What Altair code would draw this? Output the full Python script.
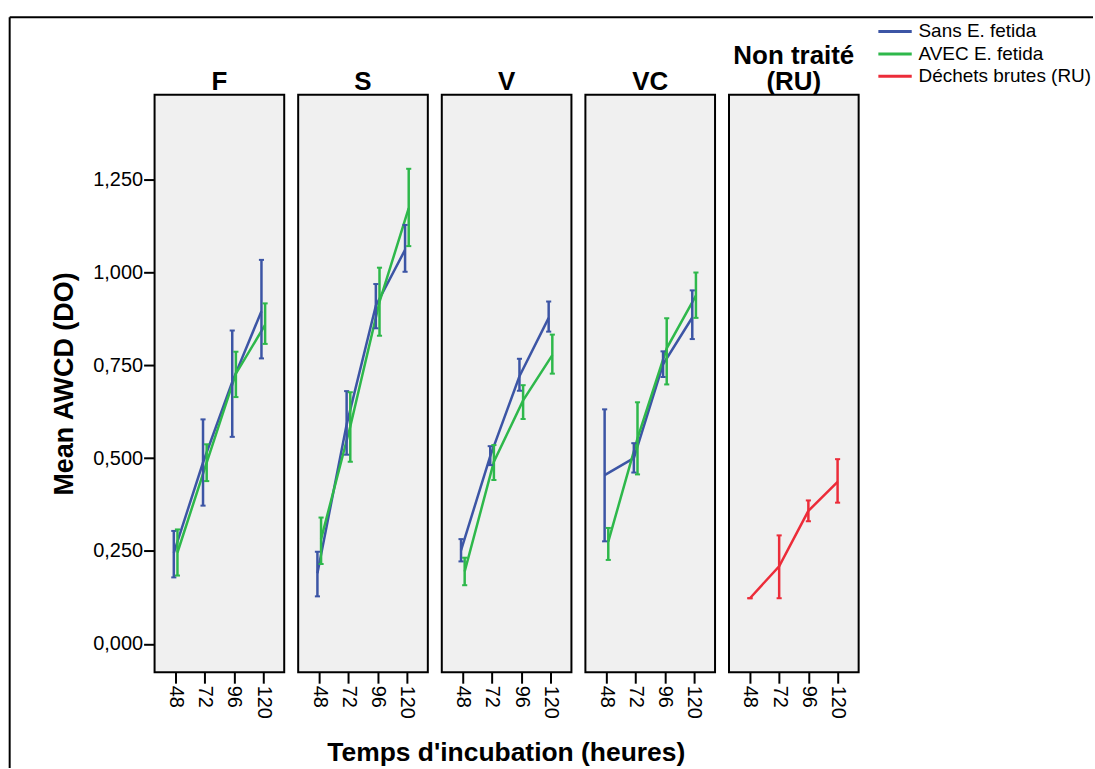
import altair as alt
import pandas as pd

# Incubation times (hours) and treatment panels
hours = [48, 72, 96, 120]
panels = ["F", "S", "V", "VC", "Non traité (RU)"]

series_names = ["Sans E. fetida", "AVEC E. fetida", "Déchets brutes (RU)"]
series_colors = ["#3c55a5", "#2eb84b", "#ec2c39"]

# Mean AWCD (DO) and error-bar bounds, without earthworms
sans_mean = {"F": [0.245, 0.488, 0.705, 0.895], "S": [0.190, 0.590, 0.910, 1.060],
             "V": [0.252, 0.505, 0.720, 0.877], "VC": [0.454, 0.500, 0.752, 0.878]}
sans_lo = {"F": [0.179, 0.372, 0.557, 0.768], "S": [0.128, 0.509, 0.849, 1.001],
           "V": [0.222, 0.481, 0.681, 0.840], "VC": [0.276, 0.461, 0.718, 0.820]}
sans_hi = {"F": [0.304, 0.604, 0.843, 1.033], "S": [0.248, 0.680, 0.968, 1.127],
           "V": [0.282, 0.532, 0.767, 0.921], "VC": [0.631, 0.540, 0.787, 0.951]}

# Mean AWCD (DO) and error-bar bounds, with E. fetida
avec_mean = {"F": [0.246, 0.488, 0.727, 0.858], "S": [0.282, 0.585, 0.920, 1.172],
             "V": [0.195, 0.490, 0.655, 0.777], "VC": [0.275, 0.553, 0.795, 0.937]}
avec_lo = {"F": [0.184, 0.438, 0.664, 0.807], "S": [0.215, 0.490, 0.829, 1.070],
           "V": [0.158, 0.441, 0.605, 0.727], "VC": [0.226, 0.456, 0.698, 0.877]}
avec_hi = {"F": [0.308, 0.537, 0.786, 0.916], "S": [0.340, 0.677, 1.012, 1.278],
           "V": [0.232, 0.535, 0.696, 0.832], "VC": [0.312, 0.650, 0.876, 0.999]}

# Untreated raw waste
ru_mean = [0.123, 0.209, 0.358, 0.436]
ru_lo = [0.123, 0.123, 0.330, 0.380]
ru_hi = [0.123, 0.292, 0.386, 0.497]

x_title = "Temps d'incubation (heures)"

rows = []
for p in panels[:4]:
    for name, m, lo, hi in [
        (series_names[0], sans_mean[p], sans_lo[p], sans_hi[p]),
        (series_names[1], avec_mean[p], avec_lo[p], avec_hi[p]),
    ]:
        for h, a, b, c in zip(hours, m, lo, hi):
            rows.append({"panel": p, "series": name, "hour": h, "mean": a, "lo": b, "hi": c})
for h, a, b, c in zip(hours, ru_mean, ru_lo, ru_hi):
    rows.append({"panel": panels[4], "series": series_names[2], "hour": h, "mean": a, "lo": b, "hi": c})
df = pd.DataFrame(rows)

FONT = "Liberation Sans"
PANEL_W, PANEL_H = 130, 579

x_scale = alt.Scale(domain=[30.8, 137.3], nice=False, zero=False)
y_scale = alt.Scale(domain=[-0.076, 1.477], nice=False, zero=False)

x_axis = alt.Axis(values=hours, format="d", title=None, grid=False, domain=False,
                  tickSize=11, tickWidth=2, tickColor="black", labelAngle=90,
                  labelAlign="left", labelBaseline="middle", labelPadding=2,
                  labelFontSize=20, labelColor="black", labelFont=FONT)
y_axis = alt.Axis(values=[0, 0.25, 0.5, 0.75, 1.0, 1.25],
                  labelExpr="replace(format(datum.value, '.3f'), '.', ',')",
                  title="Mean AWCD (DO)", grid=False, domain=False,
                  tickSize=11, tickWidth=2, tickColor="black", labelPadding=1,
                  labelFontSize=20, labelColor="black", labelFont=FONT,
                  titleFontSize=27, titleFontWeight="bold", titleColor="black",
                  titleFont=FONT, titlePadding=14)

color = alt.Color("series:N", scale=alt.Scale(domain=series_names, range=series_colors),
                  legend=alt.Legend(title=None, orient="none", legendX=724, legendY=-73,
                                    symbolType="stroke", symbolSize=1120, symbolStrokeWidth=3,
                                    labelFontSize=19, labelFont=FONT, labelColor="black",
                                    labelLimit=300, labelOffset=5, rowPadding=2.5,
                                    clipHeight=19))

# small dodge so the two series' error bars sit side by side
base = alt.Chart().transform_calculate(
    xpos="datum.hour + (datum.series === 'Sans E. fetida' ? -1.4 : "
         "datum.series === 'AVEC E. fetida' ? 1.6 : 0)"
).transform_calculate(capl="datum.xpos - 2.1", capr="datum.xpos + 2.1")

X = alt.X("xpos:Q", scale=x_scale, axis=x_axis)

lines = base.mark_line(strokeWidth=2.5).encode(
    x=X, y=alt.Y("mean:Q", scale=y_scale, axis=y_axis), color=color, detail="series:N")

bars = base.mark_rule(strokeWidth=2.5).encode(
    x=X, y=alt.Y("lo:Q", scale=y_scale, axis=y_axis), y2="hi:Q", color=color)

cap_lo = base.mark_rule(strokeWidth=2).encode(
    x=alt.X("capl:Q", scale=x_scale, axis=x_axis), x2="capr:Q",
    y=alt.Y("lo:Q", scale=y_scale, axis=y_axis), color=color)
cap_hi = base.mark_rule(strokeWidth=2).encode(
    x=alt.X("capl:Q", scale=x_scale, axis=x_axis), x2="capr:Q",
    y=alt.Y("hi:Q", scale=y_scale, axis=y_axis), color=color)

# outer frame and shared x title, drawn once from the first panel
first = alt.Chart().transform_filter(
    "datum.panel === 'F' && datum.hour === 48 && datum.series === 'Sans E. fetida'")
frame_top = first.mark_rule(color="black", strokeWidth=2).encode(
    x=alt.value(-145.3), x2=alt.value(941), y=alt.value(-77.8), y2=alt.value(-77.8))
frame_left = first.mark_rule(color="black", strokeWidth=2).encode(
    x=alt.value(-145.3), x2=alt.value(-145.3), y=alt.value(-77.8), y2=alt.value(675))
shared_title = first.mark_text(
    font=FONT, fontSize=26.5, fontWeight="bold", color="black",
    align="center", baseline="alphabetic", text=x_title,
).encode(x=alt.value(352.7), y=alt.value(668.5))

layered = alt.layer(lines, bars, cap_lo, cap_hi, frame_top, frame_left, shared_title,
                    data=df).properties(width=PANEL_W, height=PANEL_H)

chart = layered.facet(
    column=alt.Column(
        "panel:N", sort=panels, title=None,
        header=alt.Header(
            labelOrient="top",
            labelExpr="datum.value === 'Non traité (RU)' ? ['Non traité', '(RU)'] : datum.value",
            labelFont=FONT, labelFontSize=26, labelFontWeight="bold", labelColor="black",
            labelBaseline="bottom", labelLineHeight=26, labelPadding=-26,
        ),
    ),
    spacing=14,
    bounds="flush",
).properties(
    padding={"left": 7, "top": 14, "right": 0, "bottom": 0}
).configure(
    font=FONT, background="white"
).configure_view(
    fill="#f0f0f0", stroke="black", strokeWidth=2
)

chart.save("out.html", embed_options={"renderer": "svg", "actions": False})
